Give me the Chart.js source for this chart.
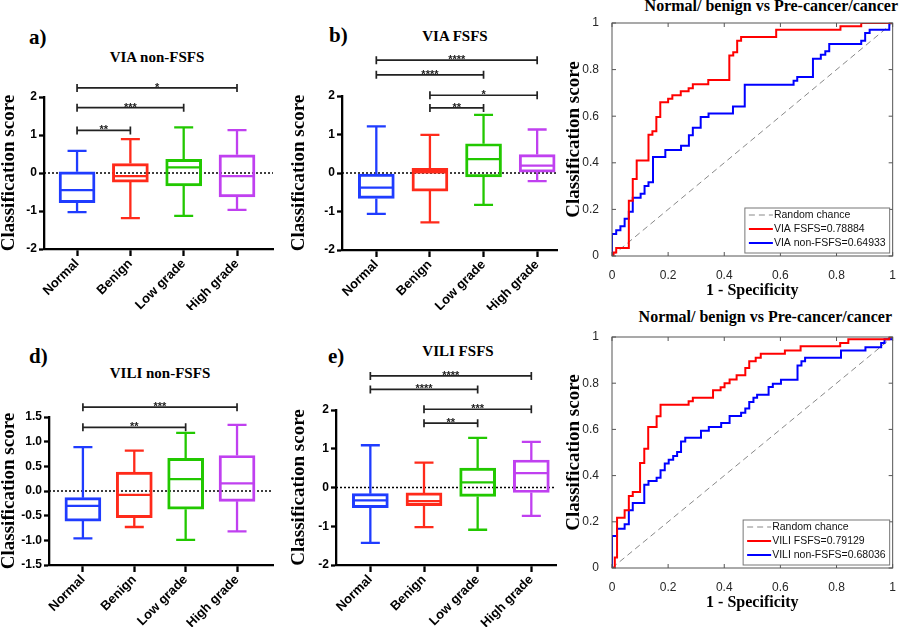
<!DOCTYPE html>
<html>
<head>
<meta charset="utf-8">
<script src="https://cdn.jsdelivr.net/npm/chart.js@4/dist/chart.umd.min.js"></script>
<style>
  body { margin: 0; background: #fff; width: 900px; height: 627px; position: relative; overflow: hidden; }
  canvas { position: absolute; }
  .letter { position: absolute; font: bold 21px "Liberation Serif"; line-height: 1; }
  .ttl { position: absolute; width: 200px; text-align: center; font: bold 15px "Liberation Serif"; line-height: 1; }
  .rtl { position: absolute; font: bold 16px "Liberation Serif"; line-height: 1; white-space: nowrap; }
</style>
</head>
<body>
<div class="letter" style="left:29px;top:27px">a)</div>
<div class="ttl" style="left:57px;top:50px">VIA non-FSFS</div>
<div class="letter" style="left:329px;top:25px">b)</div>
<div class="ttl" style="left:355px;top:29px">VIA FSFS</div>
<div class="rtl" style="right:2px;top:-2px">Normal/ benign vs Pre-cancer/cancer</div>
<div class="letter" style="left:29px;top:346px">d)</div>
<div class="ttl" style="left:60px;top:366px">VILI non-FSFS</div>
<div class="letter" style="left:328px;top:346px">e)</div>
<div class="ttl" style="left:358px;top:344px">VILI FSFS</div>
<div class="rtl" style="right:8px;top:309px">Normal/ benign vs Pre-cancer/cancer</div>

<canvas id="boxA" width="290" height="310" style="left:0;top:0"></canvas>
<canvas id="boxB" width="270" height="310" style="left:290px;top:0"></canvas>
<canvas id="rocC" width="340" height="310" style="left:560px;top:0"></canvas>
<canvas id="boxD" width="290" height="317" style="left:0;top:310px"></canvas>
<canvas id="boxE" width="270" height="317" style="left:290px;top:310px"></canvas>
<canvas id="rocF" width="340" height="317" style="left:560px;top:310px"></canvas>

<script>
const categories = ['Normal', 'Benign', 'Low grade', 'High grade'];

// [lower whisker, Q1, median, Q3, upper whisker] per group
const viaNonFsfsBox = [
  [-1.03, -0.78, -0.45, 0.03, 0.58],
  [-1.19, -0.24, -0.08, 0.25, 0.89],
  [-1.13, -0.34, 0.15, 0.36, 1.20],
  [-0.97, -0.63, -0.08, 0.48, 1.13]
];
const viaFsfsBox = [
  [-1.06, -0.66, -0.38, -0.03, 1.21],
  [-1.28, -0.47, 0.02, 0.12, 0.99],
  [-0.83, -0.10, 0.36, 0.76, 1.51],
  [-0.21, 0.02, 0.19, 0.48, 1.13]
];
const viliNonFsfsBox = [
  [-0.96, -0.61, -0.30, -0.135, 0.89],
  [-0.73, -0.54, -0.08, 0.385, 0.82],
  [-0.99, -0.37, 0.24, 0.66, 1.18],
  [-0.82, -0.21, 0.155, 0.72, 1.34]
];
const viliFsfsBox = [
  [-1.43, -0.52, -0.33, -0.16, 1.09],
  [-1.02, -0.47, -0.35, -0.14, 0.64],
  [-1.09, -0.23, 0.13, 0.50, 1.28],
  [-0.73, -0.13, 0.37, 0.71, 1.18]
];

// significance brackets: [from group, to group, height, stars]
const viaNonFsfsSig = [[0, 1, 1.12, '**'], [0, 2, 1.72, '***'], [0, 3, 2.24, '*']];
const viaFsfsSig = [[1, 2, 1.69, '**'], [1, 3, 2.02, '*'], [0, 2, 2.55, '****'], [0, 3, 2.93, '****']];
const viliNonFsfsSig = [[0, 2, 1.29, '**'], [0, 3, 1.70, '***']];
const viliFsfsSig = [[1, 2, 1.66, '**'], [1, 3, 2.02, '***'], [0, 2, 2.53, '****'], [0, 3, 2.88, '****']];

// ROC curves (false positive rate / true positive rate)
const chanceLine = [0, 1];
const viaFsfsFpr = [0, 0.005, 0.015, 0.06, 0.074, 0.088, 0.13, 0.144, 0.158, 0.172, 0.2, 0.215, 0.245, 0.273, 0.288, 0.343, 0.418, 0.432, 0.446, 0.46, 0.585, 0.814, 0.888, 1];
const viaFsfsTpr = [0, 0.015, 0.034, 0.237, 0.33, 0.41, 0.52, 0.535, 0.597, 0.66, 0.675, 0.69, 0.707, 0.72, 0.737, 0.755, 0.861, 0.875, 0.924, 0.94, 0.971, 0.986, 1, 1];
const viaNonFsfsFpr = [0, 0, 0.015, 0.03, 0.045, 0.06, 0.074, 0.102, 0.116, 0.13, 0.146, 0.19, 0.246, 0.274, 0.288, 0.316, 0.344, 0.431, 0.473, 0.647, 0.66, 0.716, 0.744, 0.76, 0.774, 0.888, 0.902, 0.918, 0.988, 1];
const viaNonFsfsTpr = [0, 0.094, 0.11, 0.128, 0.16, 0.19, 0.25, 0.267, 0.3, 0.316, 0.425, 0.455, 0.473, 0.518, 0.55, 0.597, 0.612, 0.642, 0.735, 0.752, 0.768, 0.847, 0.864, 0.879, 0.91, 0.924, 0.957, 0.971, 1, 1];
const viliFsfsFpr = [0, 0.01, 0.018, 0.045, 0.06, 0.074, 0.1, 0.115, 0.129, 0.159, 0.173, 0.273, 0.288, 0.36, 0.387, 0.401, 0.419, 0.444, 0.475, 0.489, 0.512, 0.53, 0.616, 0.672, 0.813, 0.842, 0.988, 1];
const viliFsfsTpr = [0, 0.045, 0.218, 0.25, 0.312, 0.329, 0.455, 0.516, 0.61, 0.657, 0.707, 0.722, 0.737, 0.77, 0.783, 0.8, 0.816, 0.834, 0.866, 0.895, 0.91, 0.928, 0.942, 0.96, 0.974, 0.99, 1, 1];
const viliNonFsfsFpr = [0, 0, 0.018, 0.045, 0.06, 0.074, 0.115, 0.13, 0.159, 0.173, 0.188, 0.202, 0.218, 0.232, 0.246, 0.261, 0.317, 0.345, 0.389, 0.419, 0.46, 0.475, 0.489, 0.504, 0.517, 0.558, 0.573, 0.602, 0.661, 0.675, 0.688, 0.816, 0.903, 0.959, 0.971, 1];
const viliNonFsfsTpr = [0, 0.138, 0.17, 0.189, 0.25, 0.281, 0.36, 0.377, 0.391, 0.423, 0.452, 0.469, 0.485, 0.502, 0.548, 0.564, 0.594, 0.61, 0.628, 0.658, 0.672, 0.69, 0.719, 0.737, 0.75, 0.784, 0.798, 0.815, 0.877, 0.895, 0.91, 0.942, 0.956, 0.974, 0.99, 1];

const boxColors = ['#1f3cff', '#ff2a1a', '#22c800', '#c040f0'];
const serif = 'Liberation Serif';
const sans = 'Liberation Sans';
Chart.defaults.font.family = sans;

// whiskers, medians, zero line and brackets
function boxExtras(boxes, sig) {
  return {
    id: 'boxExtras',
    beforeDatasetsDraw(chart) {
      const { ctx, chartArea, scales: { y } } = chart;
      const y0 = y.getPixelForValue(0);
      ctx.save();
      ctx.strokeStyle = '#000';
      ctx.lineWidth = 1.5;
      ctx.setLineDash([2, 2]);
      ctx.beginPath();
      ctx.moveTo(chartArea.left, y0);
      ctx.lineTo(chartArea.right, y0);
      ctx.stroke();
      ctx.restore();
    },
    afterDatasetsDraw(chart) {
      const { ctx, scales: { x, y } } = chart;
      ctx.save();
      ctx.lineWidth = 2.3;
      boxes.forEach((b, i) => {
        const cx = x.getPixelForValue(i);
        ctx.strokeStyle = boxColors[i];
        ctx.beginPath();
        ctx.moveTo(cx, y.getPixelForValue(b[0]));
        ctx.lineTo(cx, y.getPixelForValue(b[1]));
        ctx.moveTo(cx, y.getPixelForValue(b[3]));
        ctx.lineTo(cx, y.getPixelForValue(b[4]));
        [b[0], b[4]].forEach(v => {
          ctx.moveTo(cx - 9.5, y.getPixelForValue(v));
          ctx.lineTo(cx + 9.5, y.getPixelForValue(v));
        });
        ctx.moveTo(cx - 17, y.getPixelForValue(b[2]));
        ctx.lineTo(cx + 17, y.getPixelForValue(b[2]));
        ctx.stroke();
      });
      ctx.restore();
    },
    afterDraw(chart) {
      const { ctx, scales: { x, y } } = chart;
      ctx.save();
      ctx.strokeStyle = '#222';
      ctx.fillStyle = '#222';
      ctx.lineWidth = 1.7;
      ctx.font = 'bold 11px ' + sans;
      ctx.textAlign = 'center';
      sig.forEach(([a, b, h, label]) => {
        const x1 = x.getPixelForValue(a), x2 = x.getPixelForValue(b), py = y.getPixelForValue(h);
        ctx.beginPath();
        ctx.moveTo(x1, py); ctx.lineTo(x2, py);
        ctx.moveTo(x1, py - 4); ctx.lineTo(x1, py + 4);
        ctx.moveTo(x2, py - 4); ctx.lineTo(x2, py + 4);
        ctx.stroke();
        ctx.fillText(label, (x1 + x2) / 2, py + 3);
      });
      ctx.restore();
    }
  };
}

function boxChart(id, boxes, sig, g) {
  new Chart(document.getElementById(id), {
    type: 'bar',
    data: {
      datasets: [{
        data: boxes.map((b, i) => ({ x: i, y: [b[1], b[3]] })),
        backgroundColor: 'rgba(0,0,0,0)',
        borderColor: boxColors,
        borderWidth: 2.3,
        borderSkipped: false,
        barThickness: 36
      }]
    },
    options: {
      responsive: false,
      animation: false,
      layout: { padding: { top: g.top, right: g.right, left: 0, bottom: 0 } },
      plugins: { legend: { display: false }, tooltip: { enabled: false } },
      scales: {
        x: {
          type: 'linear', min: g.xMin, max: g.xMax, offset: false,
          afterBuildTicks: s => { s.ticks = categories.map((c, i) => ({ value: i })); },
          afterFit: s => { s.height = g.xHeight; },
          ticks: {
            callback: v => categories[v], minRotation: 45, maxRotation: 45, padding: 0,
            color: '#000', font: { size: 13, weight: 'bold' }
          },
          grid: { drawOnChartArea: false, offset: false, tickLength: 7, tickWidth: 2.3, tickColor: '#000' },
          border: { color: '#000', width: 2.3 }
        },
        y: {
          min: g.yMin, max: g.yMax,
          afterFit: s => { s.width = g.yWidth; },
          ticks: {
            stepSize: g.step, padding: 2, color: '#000', font: { size: 12, weight: 'bold' },
            callback: v => g.step < 1 ? v.toFixed(1) : String(v)
          },
          grid: { drawOnChartArea: false, tickLength: 5, tickWidth: 2.3, tickColor: '#000' },
          border: { color: '#000', width: 2.3 },
          title: {
            display: true, text: 'Classification score', color: '#000',
            font: { family: serif, size: 19, weight: 'bold', lineHeight: 1 }, padding: 0
          }
        }
      }
    },
    plugins: [boxExtras(boxes, sig)]
  });
}

// MATLAB-like axes box, inner ticks and legend
const rocFrame = {
  id: 'rocFrame',
  afterDraw(chart) {
    const { ctx, chartArea: a, scales: { x, y } } = chart;
    ctx.save();
    ctx.strokeStyle = '#555';
    ctx.lineWidth = 1;
    ctx.strokeRect(a.left, a.top, a.right - a.left, a.bottom - a.top);
    ctx.beginPath();
    x.ticks.forEach(t => {
      const px = x.getPixelForValue(t.value);
      ctx.moveTo(px, a.bottom); ctx.lineTo(px, a.bottom - 4);
      ctx.moveTo(px, a.top); ctx.lineTo(px, a.top + 4);
    });
    y.ticks.forEach(t => {
      const py = y.getPixelForValue(t.value);
      ctx.moveTo(a.left, py); ctx.lineTo(a.left + 4, py);
      ctx.moveTo(a.right, py); ctx.lineTo(a.right - 4, py);
    });
    ctx.stroke();

    const sets = chart.data.datasets;
    ctx.font = '10.5px ' + sans;
    const w = Math.max(...sets.map(d => ctx.measureText(d.label).width)) + 33;
    const h = 45;
    const bx = a.right - 3 - w, by = a.bottom - 3 - h;
    ctx.fillStyle = '#fff';
    ctx.fillRect(bx, by, w, h);
    ctx.strokeStyle = '#777';
    ctx.strokeRect(bx, by, w, h);
    ctx.textBaseline = 'middle';
    sets.forEach((d, i) => {
      const ry = by + 7 + i * 14;
      ctx.strokeStyle = d.borderColor;
      ctx.lineWidth = d.borderWidth;
      ctx.setLineDash(d.borderDash || []);
      ctx.beginPath();
      ctx.moveTo(bx + 4, ry); ctx.lineTo(bx + 28, ry);
      ctx.stroke();
      ctx.setLineDash([]);
      ctx.fillStyle = '#111';
      ctx.fillText(d.label, bx + 29, ry);
    });
    ctx.restore();
  }
};

function rocChart(id, names, fprs, tprs, g) {
  const pts = (fx, ty) => fx.map((v, i) => ({ x: v, y: ty[i] }));
  new Chart(document.getElementById(id), {
    type: 'line',
    data: {
      datasets: [
        { label: 'Random chance', data: pts(chanceLine, chanceLine), borderColor: '#888', borderWidth: 1, borderDash: [6, 4], order: 3 },
        { label: names[0], data: pts(fprs[0], tprs[0]), borderColor: '#ff0000', borderWidth: 2, stepped: 'before', order: 1 },
        { label: names[1], data: pts(fprs[1], tprs[1]), borderColor: '#0000ff', borderWidth: 2, stepped: 'before', order: 2 }
      ]
    },
    options: {
      responsive: false,
      animation: false,
      elements: { point: { radius: 0 } },
      layout: { padding: { top: g.top, right: 3, left: 0, bottom: 0 } },
      plugins: { legend: { display: false }, tooltip: { enabled: false } },
      scales: {
        x: {
          type: 'linear', min: 0, max: 1,
          afterFit: s => { s.height = g.xHeight; },
          ticks: { stepSize: 0.2, padding: 4, color: '#262626', font: { size: 12 }, callback: v => String(+v.toFixed(1)) },
          grid: { display: false },
          border: { display: false },
          title: {
            display: true, text: '1 - Specificity', color: '#000',
            font: { family: serif, size: 16, weight: 'bold', lineHeight: 1 }, padding: { top: 0, bottom: g.titleGap }
          }
        },
        y: {
          min: 0, max: 1,
          afterFit: s => { s.width = 52; },
          ticks: { stepSize: 0.2, padding: 5, color: '#262626', font: { size: 12 }, callback: v => String(+v.toFixed(1)) },
          grid: { display: false },
          border: { display: false },
          title: {
            display: true, text: 'Classification score', color: '#000',
            font: { family: serif, size: 19, weight: 'bold', lineHeight: 1 }, padding: { top: 4.5, bottom: 0 }
          }
        }
      }
    },
    plugins: [rocFrame]
  });
}

boxChart('boxA', viaNonFsfsBox, viaNonFsfsSig,
  { top: 97, right: 17, xHeight: 61, yWidth: 44, xMin: -0.62, xMax: 3.675, yMin: -2, yMax: 2, step: 1 });
boxChart('boxB', viaFsfsBox, viaFsfsSig,
  { top: 96, right: 3, xHeight: 60, yWidth: 52, xMin: -0.64, xMax: 3.37, yMin: -2, yMax: 2, step: 1 });
boxChart('boxD', viliNonFsfsBox, viliNonFsfsSig,
  { top: 107, right: 17, xHeight: 62, yWidth: 49, xMin: -0.66, xMax: 3.70, yMin: -1.5, yMax: 1.5, step: 0.5 });
boxChart('boxE', viliFsfsBox, viliFsfsSig,
  { top: 100, right: 4, xHeight: 62, yWidth: 46, xMin: -0.64, xMax: 3.46, yMin: -2, yMax: 2, step: 1 });

rocChart('rocC', ['VIA FSFS=0.78884', 'VIA non-FSFS=0.64933'],
  [viaFsfsFpr, viaNonFsfsFpr], [viaFsfsTpr, viaNonFsfsTpr], { top: 23, xHeight: 54, titleGap: 11 });
rocChart('rocF', ['VILI FSFS=0.79129', 'VILI non-FSFS=0.68036'],
  [viliFsfsFpr, viliNonFsfsFpr], [viliFsfsTpr, viliNonFsfsTpr], { top: 27, xHeight: 59, titleGap: 16 });
</script>
</body>
</html>
